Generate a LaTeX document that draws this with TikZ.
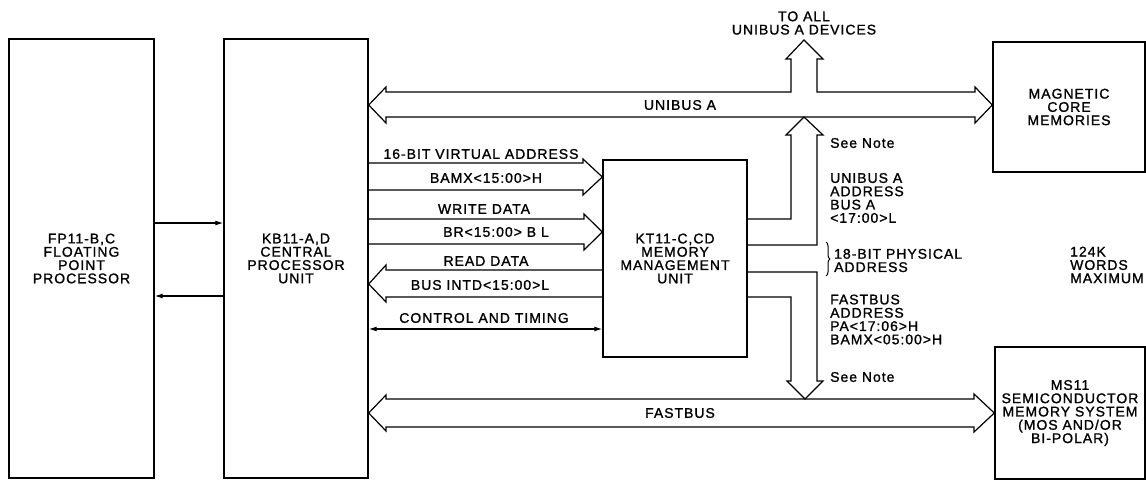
\documentclass[tikz,border=0pt]{standalone}
\usepackage{fontspec}
\setmainfont[LetterSpace=7,FakeBold=1.2]{Liberation Sans}
\usetikzlibrary{arrows.meta,decorations.pathreplacing}

\begin{document}
\begin{tikzpicture}[x=1pt,y=-1pt,
  font=\fontsize{14}{13.3}\selectfont,
  box/.style={draw,line width=1.4pt,align=center,inner sep=0},
  bus/.style={line width=1.2pt,line join=miter},
  lbl/.style={inner sep=0,align=left},
  >={Latex[length=8pt,width=5pt]}]
  \fill[white] (0,0) rectangle (1146,481);
  \useasboundingbox (0,0) rectangle (1146,481);

  % boxes
  \node[box,minimum width=145pt,minimum height=439pt] (fpp) at (81.5,258.5) {FP11-B,C\\FLOATING\\POINT\\PROCESSOR};
  \node[box,minimum width=144pt,minimum height=439pt] (cpu) at (296,258.5) {KB11-A,D\\CENTRAL\\PROCESSOR\\UNIT};
  \node[box,minimum width=144pt,minimum height=197pt] (mmu) at (675,258.5) {KT11-C,CD\\MEMORY\\MANAGEMENT\\UNIT};
  \node[box,minimum width=152pt,minimum height=130pt] (core) at (1069,107) {MAGNETIC\\CORE\\MEMORIES};
  \node[box,minimum width=150pt,minimum height=132pt] (ms) at (1070,413) {MS11\\SEMICONDUCTOR\\MEMORY SYSTEM\\(MOS AND/OR\\BI-POLAR)};

  % fp <-> cpu
  \draw[line width=1.1pt,->] (fpp.east |- 0,223) -- (cpu.west |- 0,223);
  \draw[line width=1.1pt,->] (cpu.west |- 0,296) -- (fpp.east |- 0,296);

  % unibus a
  \draw[bus] (cpu.east |- 0,105) -- (386,87) -- (386,92) -- (791,92) -- (791,59) -- (786,59) -- (804,40)
    -- (823,59) -- (817,59) -- (817,92) -- (975,92) -- (975,87) -- (core.west |- 0,105)
    -- (975,123) -- (975,117) -- (386,117) -- (386,123) -- cycle;
  \draw[bus] (mmu.east |- 0,219) -- (791,219) -- (791,135) -- (786,135) -- (804,117)
    -- (823,135) -- (817,135) -- (817,245) -- (mmu.east |- 0,245);

  % fastbus
  \draw[bus] (cpu.east |- 0,413) -- (386,395) -- (386,399) -- (974,399) -- (974,394) -- (ms.west |- 0,413)
    -- (974,432) -- (974,427) -- (386,427) -- (386,431) -- cycle;
  \draw[bus] (mmu.east |- 0,272) -- (817,272) -- (817,381) -- (823,381) -- (805,399)
    -- (787,381) -- (791,381) -- (791,297) -- (mmu.east |- 0,297);

  % cpu <-> mmu
  \draw[bus] (cpu.east |- 0,163) -- (583,163) -- (583,159) -- (mmu.west |- 0,177) -- (583,195) -- (583,190) -- (cpu.east |- 0,190);
  \draw[bus] (cpu.east |- 0,219) -- (584,219) -- (584,214) -- (mmu.west |- 0,232) -- (584,250) -- (584,244) -- (cpu.east |- 0,244);
  \draw[bus] (mmu.west |- 0,270) -- (386,270) -- (386,265) -- (cpu.east |- 0,284) -- (386,302) -- (386,297) -- (mmu.west |- 0,297);
  \draw[line width=1.1pt,<->] (cpu.east |- 0,329) -- (mmu.west |- 0,329);

  % labels
  \node[lbl,align=center] (todev) at (804,23) {TO ALL\\UNIBUS A DEVICES};
  \node[lbl] (unia) at (680,105) {UNIBUS A};
  \node[lbl] (vaddr) at (481,154) {16-BIT VIRTUAL ADDRESS};
  \node[lbl] (bamx) at (486,178) {BAMX<15:00>H};
  \node[lbl] (wdata) at (484,209) {WRITE DATA};
  \node[lbl] (br) at (496,232) {BR<15:00> B L};
  \node[lbl] (rdata) at (486,261) {READ DATA};
  \node[lbl] (intd) at (480,285) {BUS INTD<15:00>L};
  \node[lbl] (ctrl) at (484,318) {CONTROL AND TIMING};
  \node[lbl] (fast) at (680,413) {FASTBUS};
  \node[lbl,anchor=west] (note1) at (830,143) {See Note};
  \node[lbl,anchor=west] (uaddr) at (830,198) {UNIBUS A\\ADDRESS\\BUS A\\<17:00>L};
  \draw[line width=1pt,decorate,decoration={brace,amplitude=4pt}] (826,242) -- (826,276);
  \node[lbl,anchor=west] (phys) at (834,260.5) {18-BIT PHYSICAL\\ADDRESS};
  \node[lbl,anchor=west] (words) at (1070,265) {124K\\WORDS\\MAXIMUM};
  \node[lbl,anchor=west] (faddr) at (830,319.5) {FASTBUS\\ADDRESS\\PA<17:06>H\\BAMX<05:00>H};
  \node[lbl,anchor=west] (note2) at (830,377) {See Note};
\end{tikzpicture}
\end{document}
